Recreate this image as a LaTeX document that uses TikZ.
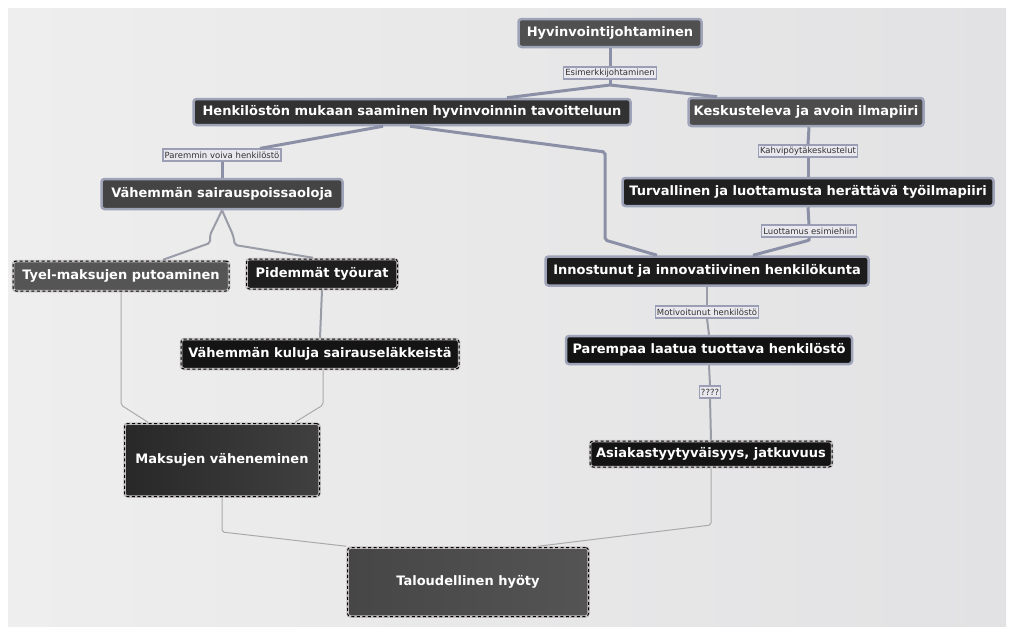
\documentclass[tikz,border=0pt]{standalone}
\usepackage{fontspec}
\setmainfont{DejaVu Sans}
\usetikzlibrary{calc}
\definecolor{bgA}{HTML}{EEEEEE}
\definecolor{bgB}{HTML}{E2E2E4}
\definecolor{nborder}{HTML}{9EA3B8}
\definecolor{dborder}{HTML}{C6C2C4}
\definecolor{thickline}{HTML}{8B90A6}
\definecolor{midline}{HTML}{9A9CA8}
\definecolor{thinline}{HTML}{AAAAAE}
\definecolor{labfill}{HTML}{E8E8EE}
\definecolor{labborder}{HTML}{9A9FB5}
\definecolor{labtext}{HTML}{333333}
\tikzset{
  cnode/.style={rectangle, rounded corners=3pt, draw=nborder, line width=2.5pt,
    text=white, font=\fontsize{13}{15}\selectfont\bfseries, inner sep=0pt, align=center},
  dnode/.style={cnode, draw=dborder,
    postaction={draw=black, line width=1pt, dash pattern=on 3pt off 2.5pt}},
  lab/.style={rectangle, draw=labborder, line width=1.2pt, fill=labfill, text=labtext,
    font=\fontsize{8.5}{9.5}\selectfont, inner sep=1.5pt, minimum height=12pt},
  bigline/.style={draw=thickline, line width=3pt, rounded corners=2pt},
  medline/.style={draw=midline, line width=2pt, rounded corners=2pt},
  thinline/.style={draw=thinline, line width=1pt, rounded corners=2pt}
}
\begin{document}
\begin{tikzpicture}[x=1pt,y=-1pt]
\useasboundingbox (0,0) rectangle (1016,637);
\fill[white] (0,0) rectangle (1016,637);
\shade[left color=bgA, right color=bgB] (8,8) rectangle (1006,626);

% nodes
\node[cnode, fill={rgb,255:red,80;green,80;blue,80}, minimum width=183pt, minimum height=28pt] (hyv) at (610,33) {Hyvinvointijohtaminen};
\node[lab] (esim) at (610,73) {Esimerkkijohtaminen};
\node[cnode, fill={rgb,255:red,50;green,50;blue,50}, minimum width=437pt, minimum height=26pt] (henk) at (412,112) {Henkilöstön mukaan saaminen hyvinvoinnin tavoitteluun};
\node[cnode, fill={rgb,255:red,76;green,76;blue,76}, minimum width=235pt, minimum height=28pt] (kesk) at (806,112) {Keskusteleva ja avoin ilmapiiri};
\node[lab] (parem) at (222,155) {Paremmin voiva henkilöstö};
\node[cnode, fill={rgb,255:red,68;green,68;blue,68}, minimum width=241pt, minimum height=30pt] (vsai) at (222,194) {Vähemmän sairauspoissaoloja};
\node[lab] (kahvi) at (808,151) {Kahvipöytäkeskustelut};
\node[cnode, fill={rgb,255:red,32;green,32;blue,32}, minimum width=371pt, minimum height=28pt] (turv) at (808,192) {Turvallinen ja luottamusta herättävä työilmapiiri};
\node[lab] (luot) at (809,231) {Luottamus esimiehiin};
\node[cnode, fill={rgb,255:red,28;green,28;blue,28}, minimum width=323pt, minimum height=29pt] (inno) at (707,271) {Innostunut ja innovatiivinen henkilökunta};
\node[dnode, fill={rgb,255:red,85;green,85;blue,85}, minimum width=216pt, minimum height=30pt] (tyel) at (121,276) {Tyel-maksujen putoaminen};
\node[dnode, fill={rgb,255:red,30;green,30;blue,30}, minimum width=151pt, minimum height=30pt] (pid) at (322,274) {Pidemmät työurat};
\node[dnode, fill={rgb,255:red,20;green,20;blue,20}, minimum width=278pt, minimum height=30pt] (vkul) at (320,354) {Vähemmän kuluja sairauseläkkeistä};
\node[lab] (motiv) at (707,312) {Motivoitunut henkilöstö};
\node[cnode, fill={rgb,255:red,18;green,18;blue,18}, minimum width=286pt, minimum height=28pt] (parq) at (709,350) {Parempaa laatua tuottava henkilöstö};
\node[lab] (q) at (710,392) {????};
\node[dnode, fill={rgb,255:red,20;green,20;blue,20}, minimum width=242pt, minimum height=26pt] (asiak) at (711,454) {Asiakastyytyväisyys, jatkuvuus};
\node[dnode, left color={rgb,255:red,40;green,40;blue,40}, right color={rgb,255:red,64;green,64;blue,64}, minimum width=195pt, minimum height=73pt] (maks) at (222,460) {Maksujen väheneminen};
\node[dnode, left color={rgb,255:red,70;green,70;blue,70}, right color={rgb,255:red,84;green,84;blue,84}, minimum width=241pt, minimum height=69pt] (talo) at (468,582) {Taloudellinen hyöty};

% bend points
\coordinate (j1) at (610,85);
\coordinate (c1) at (605,152);
\coordinate (c2) at (605,240);
\coordinate (c3) at (810,240);
\coordinate (v1) at (210,235);
\coordinate (v2) at (210,243);
\coordinate (v3) at (233,235);
\coordinate (v4) at (235,245);
\coordinate (t1) at (121,405);
\coordinate (k1) at (323,405);
\coordinate (m1) at (222,532);
\coordinate (a1) at (711,525);

% connectors
\draw[bigline] (hyv.south) -- (esim.north);
\draw[bigline] (esim.south) -- (j1);
\draw[bigline] (j1) -- ($(henk.north)+(95,0)$);
\draw[bigline] (j1) -- ($(kesk.north)+(-89,0)$);
\draw[bigline] ($(henk.south)+(-29,0)$) -- ($(parem.north)+(38,0)$);
\draw[bigline] ($(henk.south)+(-2,0)$) -- (c1) -- (c2) -- ($(inno.north)+(-50,0)$);
\draw[bigline] (parem.south) -- (vsai.north);
\draw[bigline] ($(kesk.south)+(3,0)$) -- (kahvi.north);
\draw[bigline] (kahvi.south) -- (turv.north);
\draw[bigline] (turv.south) -- (luot.north);
\draw[bigline] (luot.south) -- (c3) -- ($(inno.north)+(46,0)$);
\draw[medline] (inno.south) -- (motiv.north);
\draw[medline] (motiv.south) -- (parq.north);
\draw[medline] (parq.south) -- (q.north);
\draw[medline] (q.south) -- (asiak.north);
\draw[medline] (vsai.south) -- (v1) -- (v2) -- ($(tyel.north)+(42,0)$);
\draw[medline] (vsai.south) -- (v3) -- (v4) -- ($(pid.north)+(-9,0)$);
\draw[thinline] (tyel.south) -- (t1) -- ($(maks.north)+(-74,0)$);
\draw[medline] (pid.south) -- (vkul.north);
\draw[thinline] ($(vkul.south)+(3,0)$) -- (k1) -- ($(maks.north)+(73,0)$);
\draw[thinline] (maks.south) -- (m1) -- (talo.north west);
\draw[thinline] (asiak.south) -- (a1) -- ($(talo.north)+(70,0)$);
\end{tikzpicture}
\end{document}
